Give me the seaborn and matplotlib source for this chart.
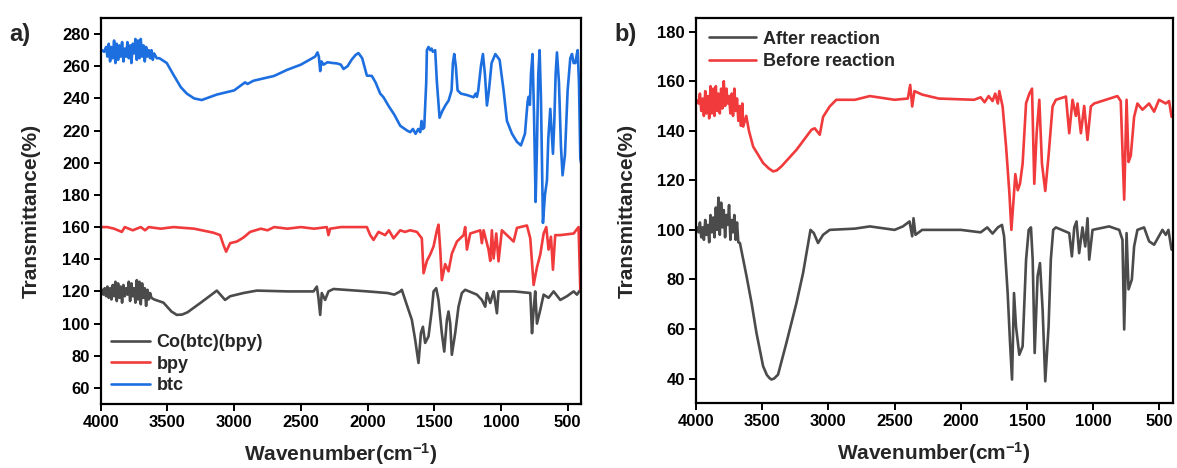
import matplotlib
matplotlib.use("Agg")
import matplotlib.pyplot as plt
import seaborn as sns

# ---------------- data ----------------
# panel a) btc (blue)
btc_wn = [4000, 3990, 3975, 3960, 3950, 3940, 3930, 3920, 3910, 3900, 3890, 3880, 3870, 3860, 3850,
          3840, 3830, 3820, 3810, 3800, 3790, 3780, 3770, 3760, 3750, 3740, 3730, 3720, 3710, 3700,
          3690, 3680, 3670, 3660, 3650, 3640, 3630, 3620, 3610, 3600, 3580, 3560, 3505, 3450, 3400,
          3355, 3300, 3243, 3130, 3000, 2918, 2900, 2855, 2700, 2605, 2500, 2393, 2375, 2365, 2355,
          2345, 2330, 2300, 2260, 2230, 2200, 2180, 2150, 2120, 2090, 2068, 2040, 2005, 1968, 1940,
          1905, 1880, 1840, 1800, 1755, 1720, 1703, 1680, 1660, 1640, 1620, 1605, 1595, 1585, 1575,
          1560, 1555, 1543, 1530, 1520, 1510, 1493, 1480, 1460, 1440, 1417, 1392, 1370, 1360, 1350,
          1338, 1325, 1300, 1250, 1205, 1190, 1180, 1170, 1150, 1135, 1120, 1105, 1090, 1070, 1042,
          1010, 980, 955, 917, 880, 850, 820, 800, 793, 783, 775, 763, 752, 740, 730, 720, 710, 700,
          685, 670, 655, 645, 630, 620, 610, 600, 590, 580, 565, 550, 538, 520, 500, 480, 467, 455,
          442, 430, 425, 415, 405, 400]
btc_t = [270, 270, 269, 272, 266, 274, 263, 272, 265, 276, 262, 274, 264, 273, 266,
         275, 263, 271, 266, 275, 265, 273, 262, 274, 268, 277, 264, 276, 265, 277,
         266, 273, 263, 272, 266, 270, 265, 270, 264, 268, 265, 265, 262, 254, 247,
         243, 240, 239, 242.4, 245, 250, 249, 251, 254, 257.7, 261, 266, 268.6, 266, 257,
         263, 261, 262.5, 262, 261.8, 261, 258.3, 260, 264, 267, 268.2, 265, 254.2, 254, 250,
         243, 240.7, 235, 230, 223, 221, 220, 219, 221, 218, 221, 219, 226, 221, 222,
         250, 270, 272, 270, 271, 269, 270, 250, 228, 232, 235.6, 238.7, 245, 262, 267.6,
         260, 245, 243, 242, 240.7, 243, 241, 245, 260, 267.6, 255, 235.6, 245, 262, 267.6,
         264, 245, 226, 218, 213, 210.8, 218, 238, 241, 236, 255, 267.6, 230, 175.6, 210, 255, 270, 240,
         162.6, 180, 189, 215, 233.5, 220, 205.6, 225, 255, 268.6, 250, 210, 192.2, 205, 245, 265, 267.6, 262,
         262, 268, 270, 250, 203, 200]

# panel a) bpy (red)
bpy_wn = [4000, 3950, 3900, 3842, 3820, 3760, 3700, 3668, 3640, 3550, 3455, 3300, 3155, 3105, 3080,
          3060, 3030, 2980, 2930, 2880, 2800, 2750, 2700, 2600, 2500, 2400, 2305, 2293, 2280, 2200,
          2100, 2005, 1980, 1955, 1918, 1868, 1840, 1805, 1755, 1720, 1680, 1630, 1593, 1580, 1555,
          1530, 1505, 1480, 1468, 1455, 1443, 1418, 1393, 1368, 1330, 1280, 1268, 1255, 1230, 1155,
          1143, 1130, 1093, 1080, 1068, 1055, 1035, 1018, 993, 955, 905, 880, 805, 780, 755,
          730, 705, 680, 660, 643, 625, 610, 593, 555, 455, 418, 405]
bpy_t = [160, 160, 159, 157, 160, 158, 160, 158, 160, 159, 160, 159, 156.5, 155, 148.8,
         144.7, 150, 151, 153.5, 157, 159, 158, 160, 159, 160, 159, 160, 155, 159, 160,
         160, 160, 155, 152, 157, 155, 158, 153, 158, 157, 158, 157, 153, 131.3, 139,
         143, 148, 158, 161.5, 146, 127, 137, 132.5, 143.5, 151, 155, 160, 146, 156, 158,
         150, 158, 146, 139, 158, 140.5, 156, 138.7, 158, 155, 151, 159.5, 161, 153, 124,
         135, 143, 156, 160, 146, 154, 133.5, 155, 155, 156, 160, 121]

# panel a) Co(btc)(bpy) (dark grey)
co_wn = [4000, 3990, 3980, 3970, 3960, 3950, 3940, 3930, 3920, 3910, 3900, 3890, 3880, 3870, 3860,
         3850, 3840, 3830, 3820, 3810, 3800, 3790, 3780, 3770, 3760, 3750, 3740, 3730, 3720, 3710,
         3700, 3690, 3680, 3670, 3660, 3650, 3640, 3630, 3620, 3600, 3530, 3470, 3430, 3390, 3350,
         3250, 3155, 3130, 3068, 3030, 2930, 2830, 2600, 2405, 2380, 2368, 2355, 2343, 2318, 2293,
         2255, 2000, 1850, 1800, 1755, 1743, 1718, 1693, 1668, 1643, 1618, 1600, 1585, 1568, 1543,
         1518, 1505, 1485, 1468, 1443, 1425, 1405, 1393, 1380, 1368, 1343, 1318, 1293, 1268, 1180,
         1143, 1118, 1105, 1080, 1055, 1030, 1018, 900, 780, 767, 755, 743, 730, 705, 680,
         643, 605, 555, 505, 455, 430, 405]
co_t = [120, 121, 118, 122, 117, 123, 116, 122, 115, 124, 117, 126, 114, 125, 116,
        123, 113, 124, 117, 122, 118, 126, 114, 125, 117, 122, 113, 127, 115, 126,
        112, 125, 116, 122, 111, 121, 115, 119, 116, 115, 113, 107.5, 105.4, 105.6, 107,
        113, 118.9, 120.5, 114.7, 117, 119, 120.5, 120, 120, 123, 116, 105.4, 119, 114.7, 120,
        121.5, 120, 119, 118, 120, 121, 114.7, 108.5, 102.4, 90, 75.5, 94, 98, 88, 92,
        108.5, 120, 122, 114.7, 94, 82.6, 102.4, 107.5, 100, 80.6, 94, 110.5, 119, 121, 118,
        114.7, 110.5, 119, 112.8, 120, 106.4, 120, 120, 119, 94, 108.5, 120, 100, 108.5, 118,
        116, 120, 114.7, 117, 120, 118, 121]

# panel b) Before reaction (red)
before_wn = [4000, 3990, 3980, 3970, 3960, 3950, 3940, 3930, 3920, 3910, 3900, 3890, 3880, 3870, 3860,
             3850, 3840, 3830, 3820, 3810, 3800, 3790, 3780, 3770, 3760, 3750, 3740, 3730, 3720, 3710,
             3700, 3690, 3680, 3670, 3660, 3650, 3643, 3620, 3600, 3568, 3493, 3450, 3417, 3390, 3355,
             3241, 3128, 3103, 3065, 3040, 2990, 2940, 2800, 2687, 2500, 2400, 2382, 2367, 2350, 2292,
             2166, 1900, 1850, 1820, 1790, 1760, 1740, 1720, 1709, 1684, 1658, 1633, 1618, 1603, 1588,
             1570, 1553, 1533, 1507, 1482, 1462, 1445, 1427, 1407, 1387, 1362, 1337, 1307, 1282, 1206,
             1181, 1156, 1131, 1118, 1093, 1068, 1043, 1018, 993, 905, 817, 792, 766, 748, 733,
             716, 691, 666, 628, 578, 540, 503, 452, 427, 408]
before_t = [152.5, 152, 151, 155, 148, 153, 146, 156, 147, 154, 145, 158, 147, 157, 146,
            158, 148, 155, 147, 157, 149, 160, 150, 157, 151, 154, 147, 155, 146, 157,
            148, 153, 144, 150, 142, 151, 141.7, 146, 140, 133.6, 127, 124.8, 123.6, 124, 125.6,
            132.3, 140.4, 141, 138.4, 145.6, 149.8, 152.5, 152.5, 154, 152.5, 153, 158.5, 149.8, 156, 154.6,
            153, 152.5, 153.5, 151.5, 154, 152, 155, 151, 156, 149.8, 133.6, 114.9, 100, 111, 122.5,
            116, 118.6, 126.7, 151.1, 155, 157, 118.6, 139, 152.5, 126.7, 115.7, 130, 149.8, 152.5, 153.8,
            139, 152.5, 146, 151, 139, 150, 136.3, 149.8, 151, 152.5, 154, 152, 112.2, 152.5, 127.4,
            130, 145.6, 151, 148.5, 151, 147.7, 152.5, 151, 152, 145.6]

# panel b) After reaction (dark grey)
after_wn = [4000, 3990, 3980, 3970, 3960, 3950, 3940, 3930, 3920, 3910, 3900, 3890, 3880, 3870, 3860,
            3850, 3840, 3830, 3820, 3810, 3800, 3790, 3780, 3770, 3760, 3750, 3740, 3730, 3720, 3710,
            3700, 3690, 3680, 3668, 3618, 3580, 3543, 3493, 3465, 3445, 3430, 3410, 3380, 3317, 3241,
            3191, 3135, 3110, 3078, 3040, 2990, 2800, 2687, 2500, 2437, 2387, 2367, 2357, 2342, 2292,
            2000, 1850, 1800, 1760, 1720, 1689, 1673, 1646, 1628, 1613, 1598, 1583, 1558, 1533, 1507,
            1487, 1470, 1457, 1442, 1420, 1402, 1382, 1362, 1337, 1320, 1302, 1282, 1181, 1161, 1143,
            1126, 1106, 1081, 1060, 1043, 1030, 1005, 880, 804, 779, 766, 748, 733, 708, 691,
            666, 616, 578, 540, 477, 452, 432, 408]
after_t = [100, 101, 99, 103, 97, 101, 96, 104, 98, 102, 95, 106, 99, 105, 97,
           109, 100, 113, 98, 111, 101, 108, 97, 106, 102, 110, 96, 104, 99, 106,
           96, 103, 95, 94.7, 81.3, 70.5, 58.4, 45, 41.5, 40.2, 39.6, 40, 41.6, 54.4, 70.5,
           82.6, 100, 98.7, 94.7, 98, 100, 100.5, 101.4, 100, 101.4, 103.4, 97.4, 104.7, 98, 100,
           100, 99, 101, 98.5, 101, 102, 97.4, 74.5, 54.4, 39.6, 74.5, 61, 49.6, 53, 87.9,
           100, 101, 88, 50.3, 81.3, 86.6, 67.8, 38.9, 61, 88, 100, 101, 98.7, 89.3, 101,
           103.4, 90.6, 101, 93.3, 104.7, 88, 100, 101.4, 100, 96, 59.8, 98.7, 76, 80, 93.3,
           100, 101, 95.4, 94, 100, 98, 100, 92]

x_ticks = [4000, 3500, 3000, 2500, 2000, 1500, 1000, 500]
ya_ticks = list(range(60, 281, 20))
yb_ticks = list(range(40, 181, 20))

c_grey = "#4b4b4b"
c_red = "#f03a3c"
c_blue = "#1d6fe0"

# ---------------- style ----------------
sns.set_theme(style="ticks")
plt.rcParams["font.family"] = ["Liberation Sans", "DejaVu Sans"]
plt.rcParams["font.weight"] = "bold"
plt.rcParams["axes.labelweight"] = "bold"
plt.rcParams["mathtext.default"] = "regular"

fig = plt.figure(figsize=(11.77, 4.68), dpi=100)
ax1 = fig.add_axes([0.0856, 0.1368, 0.4080, 0.8247])
ax2 = fig.add_axes([0.5913, 0.1382, 0.4050, 0.8233])

lw = 1.9
sns.lineplot(x=co_wn, y=co_t, ax=ax1, color=c_grey, lw=lw, sort=False, estimator=None, label="Co(btc)(bpy)")
sns.lineplot(x=bpy_wn, y=bpy_t, ax=ax1, color=c_red, lw=lw, sort=False, estimator=None, label="bpy")
sns.lineplot(x=btc_wn, y=btc_t, ax=ax1, color=c_blue, lw=lw, sort=False, estimator=None, label="btc")

sns.lineplot(x=after_wn, y=after_t, ax=ax2, color=c_grey, lw=lw, sort=False, estimator=None, label="After reaction")
sns.lineplot(x=before_wn, y=before_t, ax=ax2, color=c_red, lw=lw, sort=False, estimator=None, label="Before reaction")

for ax, yt, ylim in [(ax1, ya_ticks, (50, 290)), (ax2, yb_ticks, (30, 185.5))]:
    ax.set_xlim(4000, 400)
    ax.set_ylim(*ylim)
    ax.set_xticks(x_ticks)
    ax.set_yticks(yt)
    for s in ax.spines.values():
        s.set_linewidth(1.6)
        s.set_color("black")
        s.set_visible(True)
    ax.tick_params(axis="both", which="major", direction="out", length=5, width=1.4,
                   labelsize=12, colors="black", pad=3)
    for lab in ax.get_xticklabels() + ax.get_yticklabels():
        lab.set_fontweight("bold")
    ax.set_xlabel("Wavenumber(cm$^{-1}$)", fontsize=15, fontweight="bold", labelpad=8)
    ax.set_ylabel("Transmittance(%)", fontsize=15, fontweight="bold", labelpad=15)

leg1 = ax1.legend(loc="lower left", frameon=False, handlelength=2.2,
                  labelspacing=0.25, handletextpad=0.35, borderaxespad=0.15,
                  prop={"weight": "bold", "size": 13})
leg2 = ax2.legend(loc="upper left", frameon=False, handlelength=2.6,
                  labelspacing=0.3, handletextpad=0.4, borderaxespad=0.3,
                  prop={"weight": "bold", "size": 13})

fig.text(0.008, 0.912, "a)", fontsize=17, fontweight="bold")
fig.text(0.522, 0.912, "b)", fontsize=17, fontweight="bold")

fig.savefig("out.png", dpi=100)
